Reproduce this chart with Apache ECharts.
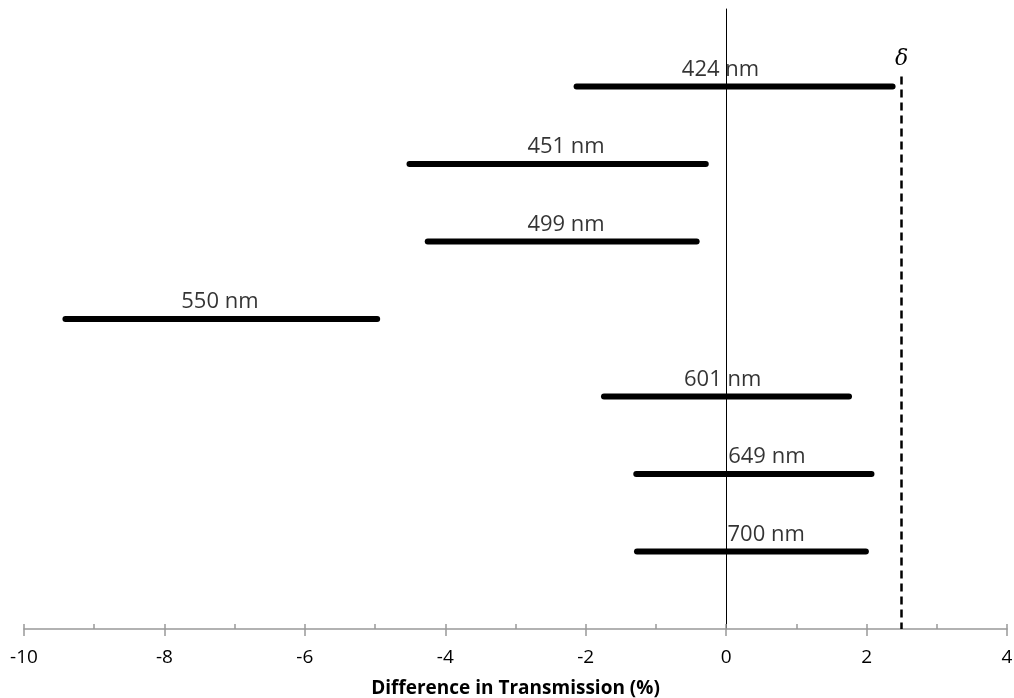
<!DOCTYPE html>
<html>
<head>
<meta charset="utf-8">
<script src="https://cdn.jsdelivr.net/npm/echarts@6/dist/echarts.min.js"></script>
<style>html,body{margin:0;padding:0;background:#fff}#c{width:1014px;height:698px}</style>
</head>
<body>
<div id="c"></div>
<script>
// Data
const wavelengths = ['424 nm', '451 nm', '499 nm', '550 nm', '601 nm', '649 nm', '700 nm'];
const rowY = [7, 6, 5, 4, 3, 2, 1];
const lowValues = [-2.13, -4.51, -4.25, -9.41, -1.74, -1.28, -1.27];
const highValues = [2.37, -0.29, -0.42, -4.97, 1.75, 2.07, 1.99];
const labelX = [-0.08, -2.28, -2.28, -7.21, -0.05, 0.58, 0.57];
const deltaValue = 2.5;
const deltaTop = 7.13;
const xTicks = [-10, -8, -6, -4, -2, 0, 2, 4];

const FONT = 'Open Sans';
const series = [];
wavelengths.forEach((w, i) => {
  series.push({
    type: 'line',
    xAxisIndex: 0,
    data: [[lowValues[i], rowY[i]], [highValues[i], rowY[i]]],
    symbol: 'none',
    silent: true,
    lineStyle: { color: '#000', width: 6, cap: 'round' },
    z: 3
  });
});
series.push({
  type: 'scatter',
  xAxisIndex: 0,
  symbolSize: 0,
  silent: true,
  data: wavelengths.map((w, i) => ({ value: [labelX[i], rowY[i]], name: w })),
  label: {
    show: true, position: 'inside', offset: [0, -17],
    formatter: p => p.name, color: '#000', fontFamily: FONT, fontSize: 22
  },
  z: 5
});
series.push({
  type: 'line',
  xAxisIndex: 0,
  data: [],
  markLine: {
    silent: true,
    symbol: ['none', 'none'],
    lineStyle: { color: '#000', width: 2.5, type: [8, 5] },
    label: {
      show: true, position: 'start', formatter: 'δ', distance: 6,
      fontFamily: 'DejaVu Serif', fontStyle: 'italic', fontSize: 22, color: '#000'
    },
    data: [[{ coord: [deltaValue, deltaTop] }, { coord: [deltaValue, 0] }]]
  }
});

const chart = echarts.init(document.getElementById('c'), null, { renderer: 'canvas' });
chart.setOption({
  animation: false,
  backgroundColor: '#fff',
  grid: { left: 24, right: 7, top: 9, bottom: 69, containLabel: false, outerBoundsMode: 'none' },
  xAxis: [{
    type: 'value', min: xTicks[0], max: xTicks[xTicks.length - 1], interval: 2,
    position: 'bottom',
    name: 'Difference in Transmission (%)', nameLocation: 'middle', nameGap: 50,
    nameTextStyle: { fontFamily: FONT, fontWeight: 'bold', fontSize: 19, color: '#000' },
    axisLine: { show: true, onZero: false, lineStyle: { color: '#999', width: 1.5 } },
    axisTick: { show: true, inside: false, length: 7, lineStyle: { color: '#999', width: 1.5 } },
    axisLabel: { fontFamily: FONT, fontSize: 19, color: '#000', margin: 19 },
    splitLine: { show: false }
  }, {
    type: 'value', min: xTicks[0], max: xTicks[xTicks.length - 1], interval: 1,
    position: 'bottom',
    axisLine: { show: false, onZero: false },
    axisTick: { show: true, inside: true, length: 5, lineStyle: { color: '#999', width: 1.5 } },
    axisLabel: { show: false },
    splitLine: { show: false }
  }],
  yAxis: {
    type: 'value', min: 0, max: 8,
    axisLine: { show: true, onZero: true, onZeroAxisIndex: 0, lineStyle: { color: '#000', width: 1 } },
    axisTick: { show: false },
    axisLabel: { show: false },
    splitLine: { show: false }
  },
  series: series
});
</script>
</body>
</html>
